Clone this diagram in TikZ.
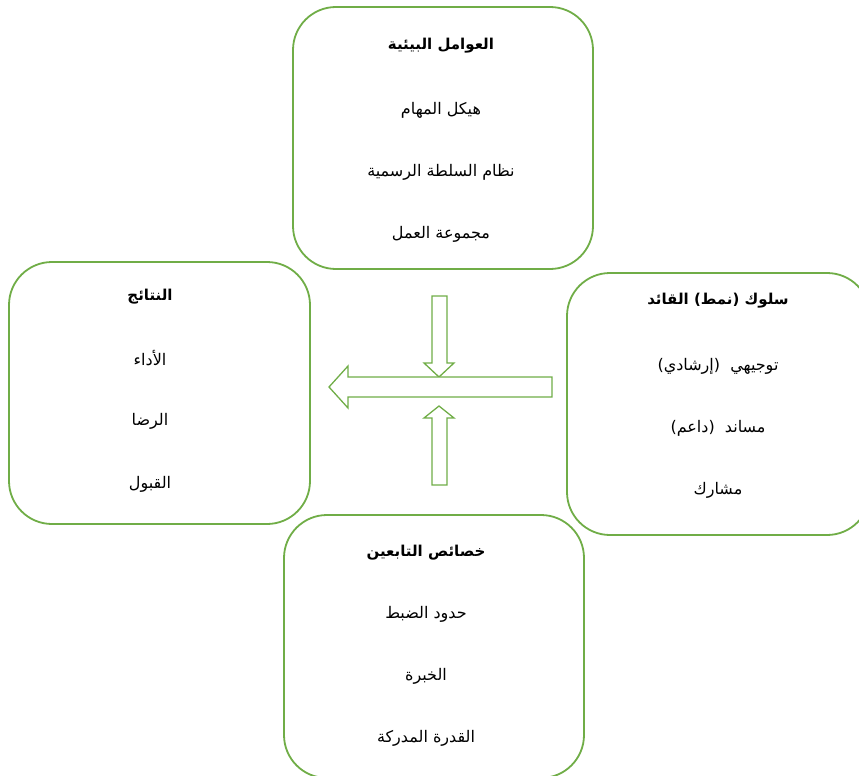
\documentclass[tikz,border=0pt]{standalone}
\usepackage{fontspec}
\usepackage{tikz}
\usetikzlibrary{positioning}
\TeXXeTstate=1
\newfontfamily\arabicfont[Script=Arabic]{DejaVu Sans}
\newcommand{\artext}[1]{\beginR#1\endR}
\definecolor{boxgreen}{HTML}{70AD47}
\tikzset{
    box_node/.style={draw=boxgreen, line width=1.8pt, rounded corners=43pt, inner sep=0pt},
    title_text/.style={font=\arabicfont\bfseries\fontsize{15}{18}\selectfont, inner sep=1pt},
    item_text/.style={font=\arabicfont\fontsize{16}{19}\selectfont, inner sep=1pt},
    block_arrow/.style={draw=boxgreen, line width=1.3pt, fill=white, line join=miter}
}

\begin{document}
\begin{tikzpicture}[x=1pt, y=-1pt]
        \useasboundingbox (0,0) rectangle (859,776);
        \clip (0,0) rectangle (859,776);
        % boxes
        \node[box_node, minimum width=300pt, minimum height=262pt] (env) at (443,138) {};
        \node[box_node, minimum width=301pt, minimum height=262pt] (res) at (159.5,393) {};
        \node[box_node, minimum width=303pt, minimum height=262pt] (lead) at (718.5,404) {};
        \node[box_node, minimum width=300pt, minimum height=263pt] (foll) at (434,646.5) {};
        % environment factors
        \node[title_text] (env_t) at (441,46) {\artext{العوامل البيئية}};
        \foreach \txt [count=\k] in {هيكل المهام, نظام السلطة الرسمية, مجموعة العمل}
            \node[item_text] (env\k) at (441,{48+62*\k}) {\artext{\txt}};
        % results
        \node[title_text] (res_t) at (150,297) {\artext{النتائج}};
        \foreach \txt [count=\k] in {الأداء, الرضا, القبول}
            \node[item_text] (res\k) at (150,{295+63*\k}) {\artext{\txt}};
        % leader behaviour
        \node[title_text] (lead_t) at (718,301) {\artext{سلوك (نمط) القائد}};
        \foreach \txt [count=\k] in {توجيهي \ (إرشادي), مساند \ (داعم), مشارك}
            \node[item_text] (lead\k) at (718,{304+62*\k}) {\artext{\txt}};
        % followers
        \node[title_text] (foll_t) at (426,553) {\artext{خصائص التابعين}};
        \foreach \txt [count=\k] in {حدود الضبط, الخبرة, القدرة المدركة}
            \node[item_text] (foll\k) at (426,{552+62*\k}) {\artext{\txt}};
        % arrows
        \draw[block_arrow] (432,296) -- (447,296) -- (447,363) -- (454,363) -- (439,377)
            -- (424,363) -- (432,363) -- cycle;
        \draw[block_arrow] (552,377) -- (552,397) -- (348,397) -- (348,408) -- (329,387)
            -- (348,366) -- (348,377) -- cycle;
        \draw[block_arrow] (432,485) -- (447,485) -- (447,418) -- (454,418) -- (439,406)
            -- (424,418) -- (432,418) -- cycle;
    \end{tikzpicture}
\end{document}
